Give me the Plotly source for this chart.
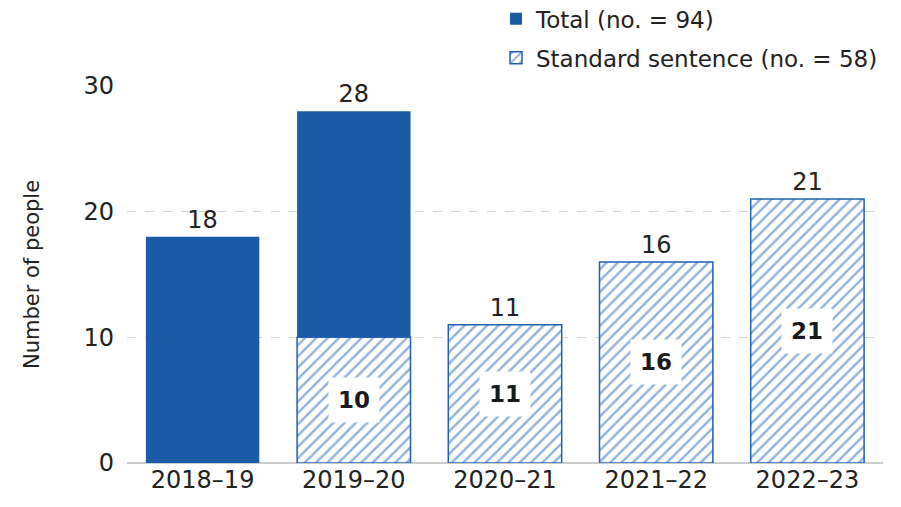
import plotly.graph_objects as go

years = ["2018–19", "2019–20", "2020–21", "2021–22", "2022–23"]
total = [18, 28, 11, 16, 21]
standard = [0, 10, 11, 16, 21]

BLUE = "#1B5BA6"
HATCH = "#1F62B3"
FONT = "DejaVu Sans, Liberation Sans, Arial, sans-serif"
TXT = "#222222"

fig = go.Figure()

fig.add_trace(go.Bar(
    x=years, y=total,
    name=f"Total (no. = {sum(total)})",
    legendgroup="total",
    marker=dict(color=BLUE, line=dict(width=0)),
    text=[str(v) for v in total], textposition="outside",
    textfont=dict(size=24, color=TXT, family=FONT),
    cliponaxis=False,
))

fig.add_trace(go.Bar(
    x=years, y=standard,
    name=f"Standard sentence (no. = {sum(standard)})",
    legendgroup="standard",
    marker=dict(
        color="white",
        line=dict(color=HATCH, width=1.5),
        pattern=dict(shape="/", fgcolor=HATCH, bgcolor="white", size=8, solidity=0.3),
    ),
))

# bold value labels on white boxes inside the hatched bars
for yr, v in zip(years, standard):
    if v > 0:
        fig.add_annotation(
            x=yr, y=v / 2, text=f"<b>{v}</b>", showarrow=False,
            font=dict(size=23, color="#1a1a1a", family=FONT),
            bgcolor="white", borderpad=9,
        )

fig.update_layout(
    width=901, height=507,
    margin=dict(l=127, r=18, t=86, b=44, autoexpand=False),
    paper_bgcolor="white", plot_bgcolor="white",
    barmode="overlay", bargap=0.25,
    font=dict(family=FONT, color=TXT, size=24),
    legend=dict(
        x=1.0, xanchor="right", y=1.235, yanchor="top",
        font=dict(size=23, family=FONT, color=TXT),
        traceorder="grouped", itemwidth=30, tracegroupgap=6,
        bgcolor="rgba(0,0,0,0)",
    ),
    showlegend=True,
)

fig.update_xaxes(
    showgrid=False, showline=False, ticks="",
    tickfont=dict(size=24, family=FONT, color=TXT),
)
fig.update_yaxes(
    range=[0, 30], tickvals=[0, 10, 20, 30],
    showgrid=True, gridcolor="#d4d4d4", griddash="dash", gridwidth=1,
    zeroline=True, zerolinecolor="#cccccc", zerolinewidth=2,
    ticks="", ticklabelstandoff=12,
    tickfont=dict(size=24, family=FONT, color=TXT),
    title=dict(text="Number of people", font=dict(size=21, family=FONT, color=TXT), standoff=38),
)

fig.write_html("out.html")
